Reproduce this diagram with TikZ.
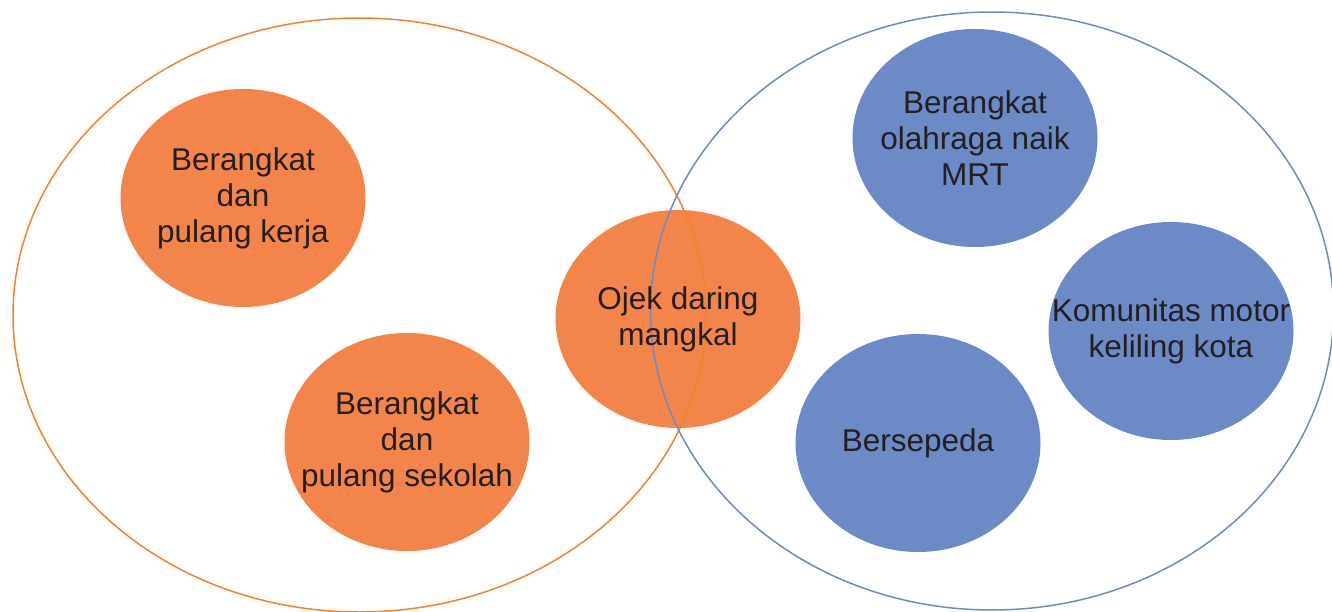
\documentclass[tikz,border=0pt]{standalone}
\usepackage{fontspec}
\setmainfont{Liberation Sans}
\usetikzlibrary{shapes.geometric}
\definecolor{orfill}{HTML}{F4854A}
\definecolor{orline}{HTML}{F38324}
\definecolor{blfill}{HTML}{6C8AC6}
\definecolor{blline}{HTML}{6A8AC8}
\definecolor{txtc}{HTML}{231F20}
\tikzset{
  blob/.style={ellipse, inner sep=0pt, minimum width=245pt, minimum height=218pt},
  oblob/.style={blob, fill=orfill},
  bblob/.style={blob, fill=blfill},
  lbl/.style={align=center, text=txtc, inner sep=0pt, font=\fontsize{31.5}{36}\selectfont},
  bigo/.style={draw=orline, line width=1.5pt},
  bigb/.style={draw=blline, line width=1.5pt},
}
\begin{document}
\begin{tikzpicture}[x=1pt,y=-1pt]
\useasboundingbox (0,0) rectangle (1332,612);
% small ellipses
\node[oblob] (kerja) at (243,198) {};
\node[oblob] (sekolah) at (407,442) {};
\node[oblob] (ojek) at (678,319) {};
\node[bblob] (mrt) at (975,138) {};
\node[bblob] (komunitas) at (1171,331) {};
\node[bblob] (sepeda) at (918,443) {};
% big ellipses
\draw[bigo] (359.5,315) ellipse (346.5 and 297);
\draw[bigb] (992,311) ellipse (341.5 and 299);
% labels
\node[lbl] (tkerja) at (kerja) {Berangkat\\dan\\pulang kerja};
\node[lbl] (tsekolah) at (sekolah) {Berangkat\\dan\\pulang sekolah};
\node[lbl] (tojek) at (ojek) {Ojek daring\\mangkal};
\node[lbl] (tmrt) at (mrt) {Berangkat\\olahraga naik\\MRT};
\node[lbl] (tkom) at (komunitas) {Komunitas motor\\keliling kota};
\node[lbl] (tsep) at (sepeda) {Bersepeda};
\end{tikzpicture}
\end{document}
